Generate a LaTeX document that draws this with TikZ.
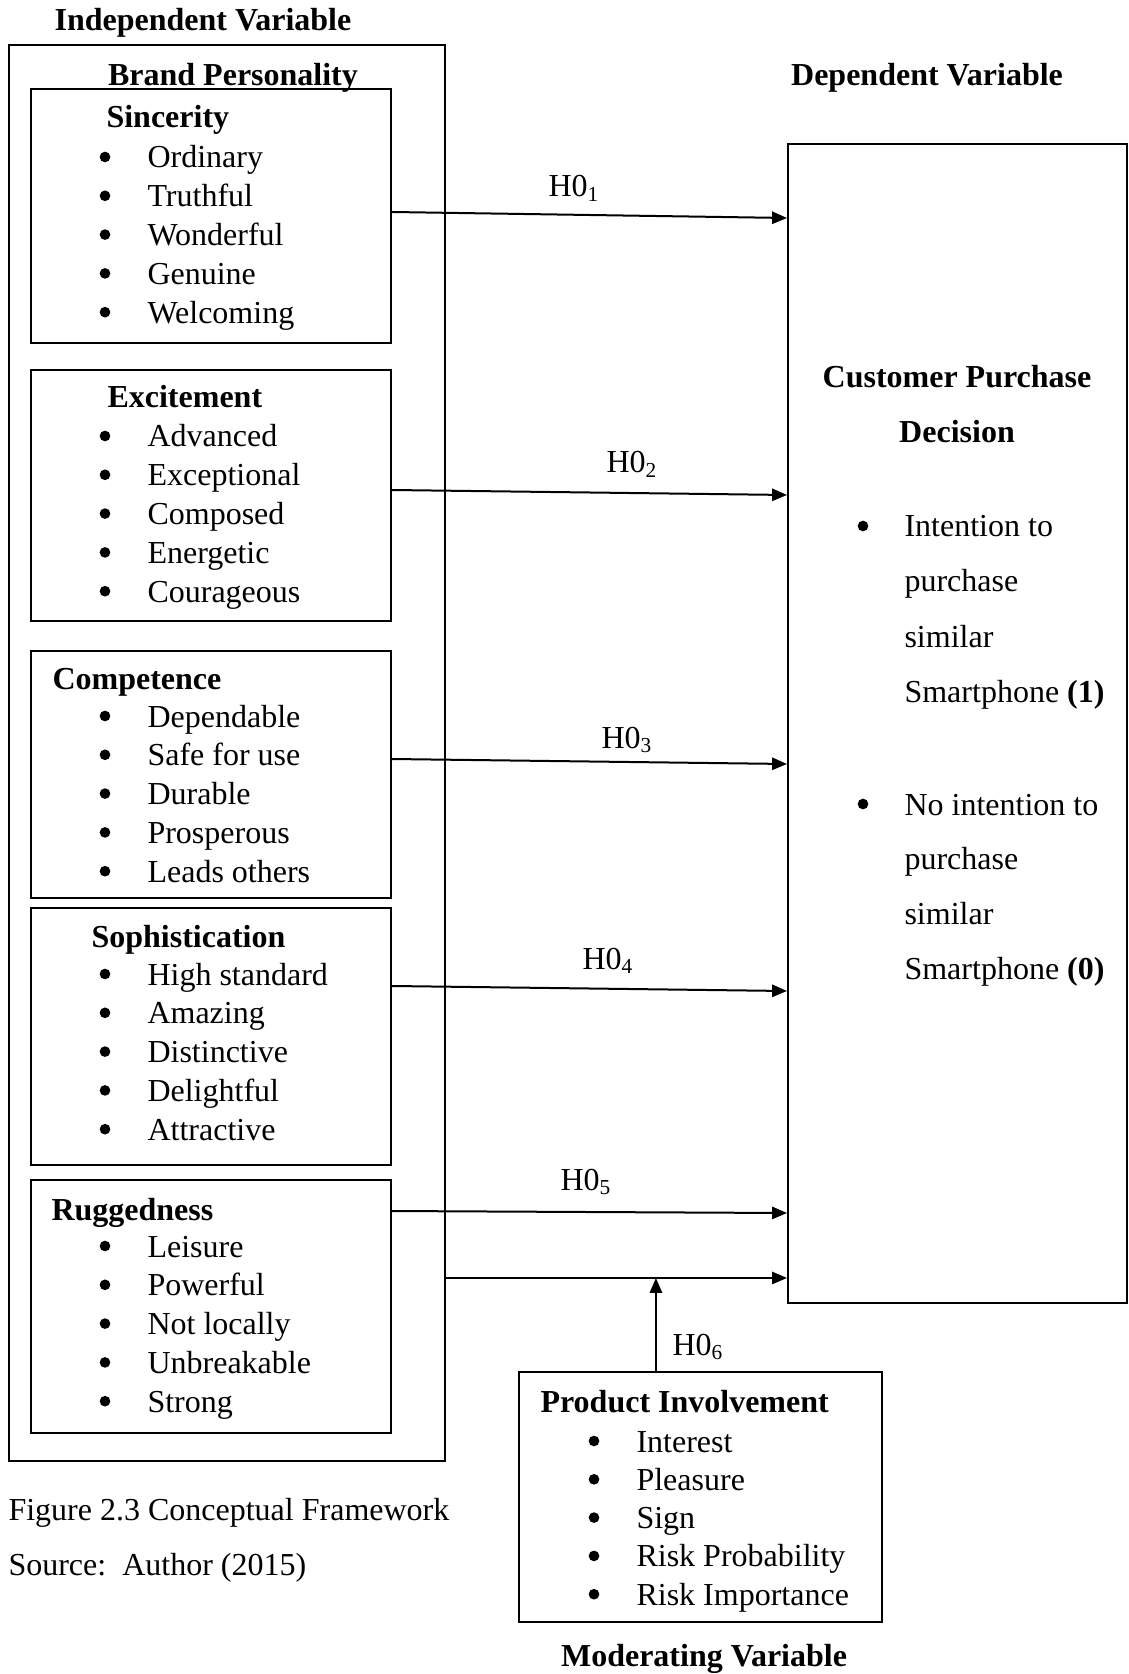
\documentclass[tikz,border=0pt]{standalone}
\usepackage{fontspec}
\setmainfont{Liberation Serif}
\usetikzlibrary{arrows.meta}
\begin{document}
\begin{tikzpicture}[x=0.375pt, y=-0.375pt, font=\fontsize{12}{14.4}\selectfont,
		>={Triangle[length=5.6pt,width=4.6pt]},
		frame/.style={draw, line width=0.75pt, inner sep=0pt, anchor=north west},
		title/.style={font=\fontsize{12}{14.4}\selectfont\bfseries, inner sep=0pt, anchor=base west},
		word/.style={inner sep=0pt, anchor=base west},
		dot/.style={circle, fill, inner sep=0pt, minimum size=4pt},
		link/.style={->, line width=0.75pt}]
	% Page size
	\useasboundingbox (0,0) rectangle (1128,1674);
	
	% Headings
	\node[title, anchor=base] (indep) at (203,31) {Independent Variable};
	\node[title, anchor=base] (brand) at (233,86) {Brand Personality};
	\node[title, anchor=base] (depvar) at (927,86) {Dependent Variable};
	\node[title, anchor=base] (modvar) at (704,1666) {Moderating Variable};
	
	% Outer frame, dependent box and moderator box
	\node[frame, minimum width=163.5pt, minimum height=531pt] (outer) at (8,44) {};
	\node[frame, minimum width=127.1pt, minimum height=434.6pt] (dep) at (787,143) {};
	\node[frame, minimum width=136.1pt, minimum height=93.75pt] (pi) at (518,1371) {};
	
	% Trait boxes
	\foreach \nm/\ya/\yb in {sinc/88/342, exci/369/620, comp/650/897, soph/907/1164, rugg/1179/1432}
		\node[frame, minimum width=135pt, minimum height={(\yb-\ya)*0.375pt}] (\nm) at (30,\ya) {};
	
	% Trait titles and items
	\foreach \nm/\tx/\ty/\fy/\head/\items in {
		sinc/106/128/168/Sincerity/{Ordinary,Truthful,Wonderful,Genuine,Welcoming},
		exci/107/408/447/Excitement/{Advanced,Exceptional,Composed,Energetic,Courageous},
		comp/52/689/727/Competence/{Dependable,Safe for use,Durable,Prosperous,Leads others},
		soph/91/947/985/Sophistication/{High standard,Amazing,Distinctive,Delightful,Attractive},
		rugg/51/1220/1257/Ruggedness/{Leisure,Powerful,Not locally,Unbreakable,Strong}}
	{
		\node[title] (\nm-t) at (\tx,\ty) {\head};
		\foreach \t [count=\i from 0] in \items {
			\node[dot] (\nm-b\i) at (105,\fy+38.8*\i-11) {};
			\node[word] (\nm-\i) at (147,\fy+38.8*\i) {\t};
		}
	}
	
	% Dependent variable text
	\node[title, anchor=base] (cpd1) at (957,388) {Customer Purchase};
	\node[title, anchor=base] (cpd2) at (957,443) {Decision};
	\node[dot] (yes-b) at (863,526) {};
	\node[dot] (no-b) at (863,804) {};
	\foreach \t [count=\i from 0] in {Intention to, purchase, similar, Smartphone \textbf{(1)}}
		\node[word] (yes-\i) at (904,537+55*\i) {\t};
	\foreach \t [count=\i from 0] in {No intention to, purchase, similar, Smartphone \textbf{(0)}}
		\node[word] (no-\i) at (904,815+54.7*\i) {\t};
	
	% Moderator text
	\node[title] (pi-t) at (540,1412) {Product Involvement};
	\foreach \t [count=\i from 0] in {Interest, Pleasure, Sign, Risk Probability, Risk Importance} {
		\node[dot] (pi-b\i) at (594,1452+38.3*\i-11) {};
		\node[word] (pi-\i) at (636,1452+38.3*\i) {\t};
	}
	
	% Hypothesis arrows
	\draw[link] ([yshift=1.5pt]sinc.east) -- ([yshift=-0.75pt]sinc.east -| dep.west);
	\draw[link] ([yshift=2.06pt]exci.east) -- ([yshift=0.19pt]exci.east -| dep.west);
	\draw[link] ([yshift=5.81pt]comp.east) -- ([yshift=3.94pt]comp.east -| dep.west);
	\draw[link] ([yshift=18.94pt]soph.east) -- ([yshift=17.06pt]soph.east -| dep.west);
	\draw[link] ([yshift=35.81pt]rugg.east) -- ([yshift=35.06pt]rugg.east -| dep.west);
	\coordinate (join) at ([yshift=10.7pt]rugg.east -| outer.east);
	\draw[link] (join) -- (join -| dep.west);
	\draw[link] ([xshift=-16.7pt]pi.north) -- ([xshift=-16.7pt]pi.north |- join);
	
	% Hypothesis labels
	\foreach \i/\hx/\hy in {1/548/197, 2/606/473, 3/601/748, 4/582/969, 5/560/1190, 6/672/1355}
		\node[word] (h\i) at (\hx,\hy) {H0\textsubscript{\i}};
	
	% Caption
	\node[word] (fig) at (8,1520) {Figure 2.3 Conceptual Framework};
	\node[word] (src) at (8,1575) {Source:\ \ Author (2015)};
\end{tikzpicture}
\end{document}
